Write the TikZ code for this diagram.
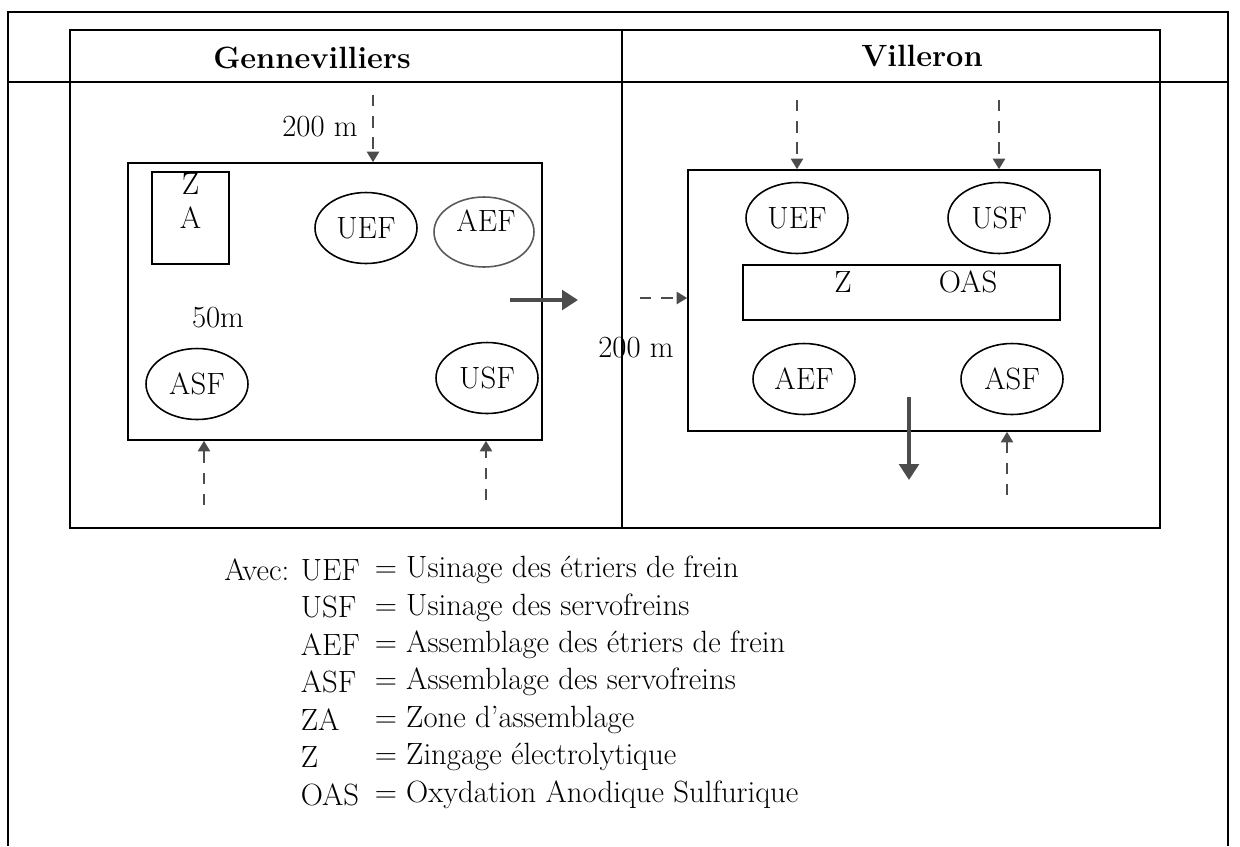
\documentclass[tikz,border=0pt]{standalone}
\usepackage{fontspec}
\usetikzlibrary{shapes.geometric,arrows.meta}
\newcommand{\taille}{\fontsize{17.5}{19}\selectfont}
\definecolor{fleche}{gray}{0.3}
\begin{document}
\begin{tikzpicture}[x=0.02cm,y=-0.02cm,line width=0.9pt,
    every node/.style={font=\taille},
    poste/.style={draw,ellipse,minimum width=2.04cm,minimum height=1.42cm,inner sep=0pt},
    batiment/.style={draw,line width=1pt,inner sep=0pt},
    appro/.style={fleche,line width=1pt,dash pattern=on 6.5pt off 5.5pt,-{Triangle[length=6pt,width=7pt]}},
    sortie/.style={fleche,line width=2.6pt,-{Triangle[length=9pt,width=11pt]}}]
    \useasboundingbox (0,0) rectangle (1240,846);

    % cadres
    \draw[line width=1.1pt] (8,846) -- (8,12) -- (1228,12) -- (1228,846);
    \draw[line width=1.1pt] (8,82) -- (1228,82);
    \draw[line width=1.1pt] (70,30) rectangle (1160,528);
    \draw[line width=1.1pt] (622,30) -- (622,528);
    \node[font=\taille\bfseries] (titreG) at (312,58) {Gennevilliers};
    \node[font=\taille\bfseries] (titreV) at (922,56) {Villeron};

    % site de Gennevilliers
    \node[batiment,minimum width=8.28cm,minimum height=5.54cm] (batG) at (335,301.5) {};
    \node[draw,minimum width=1.54cm,minimum height=1.84cm] (za) at (190.5,218) {};
    \node[anchor=north,align=center,inner sep=1pt] at (za.north) {Z\\A};
    \node[poste] (uefG) at (366,228) {UEF};
    \node[poste,draw=gray!70!black,minimum width=2cm,minimum height=1.4cm] (aefG) at (484,232) {};
    \node at (486,221) {AEF};
    \node[poste] (asfG) at (197,384) {ASF};
    \node[poste] (usfG) at (487,378) {USF};
    \node (dist50) at (218,318) {50m};
    \node (distG) at (320,127) {200 m};

    \coordinate (gHaut) at (373,95);
    \coordinate (gBas1) at (204,505);
    \coordinate (gBas2) at (486,500);
    \coordinate (gSort1) at (510,300);
    \coordinate (gSort2) at (578,300);
    \draw[appro] (gHaut) -- (gHaut |- batG.north);
    \draw[appro] (gBas1) -- (gBas1 |- batG.south);
    \draw[appro] (gBas2) -- (gBas2 |- batG.south);
    \draw[sortie] (gSort1) -- (gSort2);

    % site de Villeron
    \node[batiment,minimum width=8.24cm,minimum height=5.22cm] (batV) at (894,300.5) {};
    \node[draw,minimum width=6.34cm,minimum height=1.1cm] (bain) at (901.5,292.5) {};
    \node (zing) at (843,282) {Z};
    \node (oas) at (968,282) {OAS};
    \node[poste] (uefV) at (797,218) {UEF};
    \node[poste] (usfV) at (999,218) {USF};
    \node[poste] (aefV) at (804,379) {AEF};
    \node[poste] (asfV) at (1012,379) {ASF};
    \node (distV) at (636,348) {200 m};

    \coordinate (vHaut1) at (797,100);
    \coordinate (vHaut2) at (999,100);
    \coordinate (vGauche) at (640,298);
    \coordinate (vBas) at (1007,495);
    \coordinate (vSort1) at (909,397);
    \coordinate (vSort2) at (909,480);
    \draw[appro] (vHaut1) -- (vHaut1 |- batV.north);
    \draw[appro] (vHaut2) -- (vHaut2 |- batV.north);
    \draw[appro] (vGauche) -- (vGauche -| batV.west);
    \draw[appro] (vBas) -- (vBas |- batV.south);
    \draw[sortie] (vSort1) -- (vSort2);

    % legende
    \node[anchor=east,inner sep=0pt] (avec) at (290,570) {Avec:};
    \foreach \abr/\sens [count=\i] in {UEF/Usinage des étriers de frein,
        USF/Usinage des servofreins,
        AEF/Assemblage des étriers de frein,
        ASF/Assemblage des servofreins,
        ZA/Zone d’assemblage,
        Z/Zingage électrolytique,
        OAS/Oxydation Anodique Sulfurique}
    {
        \node[anchor=west,inner sep=0pt] (abr\i) at (300,570+37.4*\i-37.4) {\abr};
        \node[anchor=west,inner sep=0pt] (sens\i) at (374,570+37.4*\i-37.4) {= \sens};
    }
\end{tikzpicture}
\end{document}
